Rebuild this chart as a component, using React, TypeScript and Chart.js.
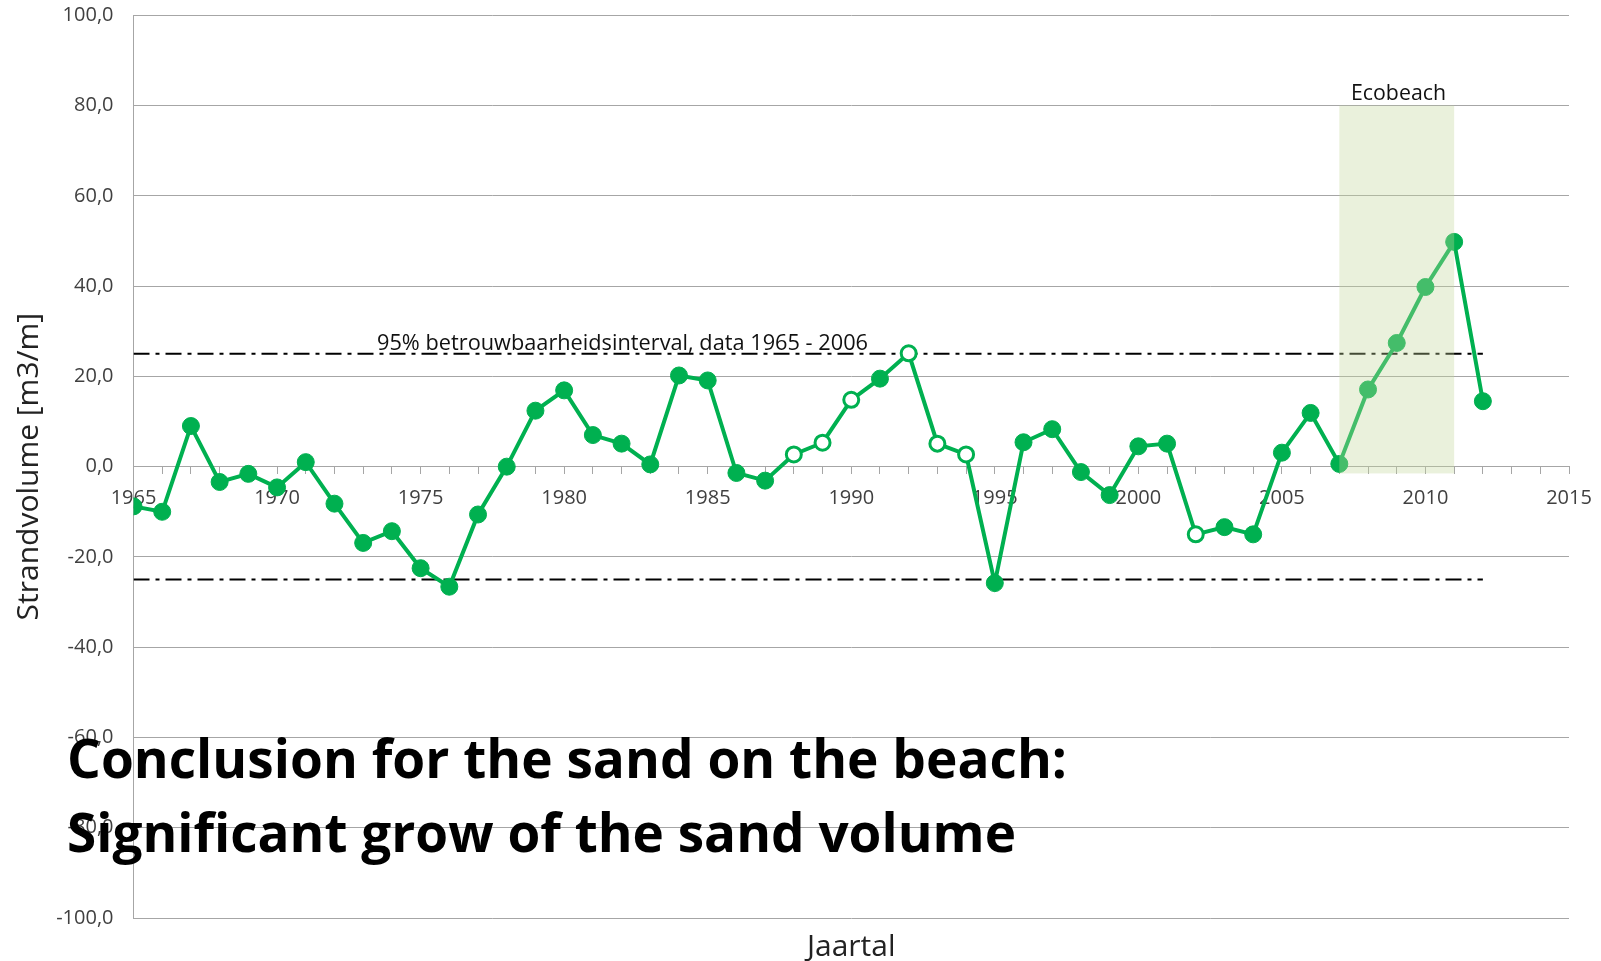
import React, { useEffect, useRef } from 'react';
import { Chart, registerables } from 'chart.js';

Chart.register(...registerables);

// ---- data ----
const years = [
  1965, 1966, 1967, 1968, 1969, 1970, 1971, 1972, 1973, 1974,
  1975, 1976, 1977, 1978, 1979, 1980, 1981, 1982, 1983, 1984,
  1985, 1986, 1987, 1988, 1989, 1990, 1991, 1992, 1993, 1994,
  1995, 1996, 1997, 1998, 1999, 2000, 2001, 2002, 2003, 2004,
  2005, 2006, 2007, 2008, 2009, 2010, 2011, 2012,
];
const strandvolume = [
  -8.8, -10.0, 9.0, -3.4, -1.6, -4.6, 1.0, -8.2, -16.9, -14.3,
  -22.5, -26.6, -10.6, 0.0, 12.4, 16.9, 7.0, 5.1, 0.5, 20.2,
  19.1, -1.4, -3.1, 2.7, 5.3, 14.8, 19.5, 25.1, 5.1, 2.7,
  -25.8, 5.4, 8.3, -1.2, -6.3, 4.5, 5.1, -15.0, -13.4, -15.0,
  3.1, 11.9, 0.6, 17.1, 27.4, 39.8, 49.8, 14.5,
];
const openMarker = [
  false, false, false, false, false, false, false, false, false, false,
  false, false, false, false, false, false, false, false, false, false,
  false, false, false, true, true, true, false, true, true, true,
  false, false, false, false, false, false, false, true, false, false,
  false, false, false, false, false, false, false, false,
];
const ciLevels = [25, -25];
const ciYears = [1965, 2012];
const ciLabel = '95% betrouwbaarheidsinterval, data 1965 - 2006';
const ecobeachYears = [2007, 2011];
const ecobeachRange = [-1.5, 80];
const ecobeachLabel = 'Ecobeach';
const xRange = [1965, 2015];
const yRange = [-100, 100];
const yStep = 20;
const xLabelEvery = 5;
const yTitle = 'Strandvolume [m3/m]';
const xTitle = 'Jaartal';
const conclusionLines = [
  'Conclusion for the sand on the beach:',
  'Significant grow of the sand volume',
];

const GREEN = '#00B050';
const GRID = '#A6A6A6';
const FONT = "'Open Sans', 'Noto Sans', sans-serif";

function fitText(ctx: CanvasRenderingContext2D, text: string, x: number, y: number, width: number) {
  const natural = ctx.measureText(text).width;
  ctx.save();
  ctx.translate(x, y);
  ctx.scale(width / natural, 1);
  ctx.fillText(text, 0, 0);
  ctx.restore();
}

const overlayPlugin = {
  id: 'overlayPlugin',
  afterDatasetsDraw(chart: any) {
    const { ctx } = chart;
    const x = chart.scales.x;
    const y = chart.scales.y;
    ctx.save();
    // Ecobeach band (semi-transparent over data)
    const bx0 = x.getPixelForValue(ecobeachYears[0]);
    const bx1 = x.getPixelForValue(ecobeachYears[1]);
    const by0 = y.getPixelForValue(ecobeachRange[1]);
    const by1 = y.getPixelForValue(ecobeachRange[0]);
    ctx.fillStyle = 'rgba(196,215,155,0.35)';
    ctx.fillRect(bx0, by0, bx1 - bx0, by1 - by0);

    // Ecobeach label
    ctx.fillStyle = '#111';
    ctx.font = `21px ${FONT}`;
    ctx.textAlign = 'left';
    ctx.textBaseline = 'alphabetic';
    fitText(ctx, ecobeachLabel, 1351, by0 - 6, 95);

    // CI label
    ctx.font = `21px ${FONT}`;
    fitText(ctx, ciLabel, 377, y.getPixelForValue(ciLevels[0]) - 4, 491);

    // x title
    ctx.font = `30px ${FONT}`;
    ctx.fillStyle = '#222';
    ctx.textAlign = 'center';
    ctx.textBaseline = 'middle';
    ctx.fillText(xTitle, (chart.chartArea.left + chart.chartArea.right) / 2, 947);

    // Conclusion text
    ctx.fillStyle = '#000';
    ctx.font = `bold 53px ${FONT}`;
    ctx.textAlign = 'left';
    ctx.textBaseline = 'alphabetic';
    fitText(ctx, conclusionLines[0], 67, 778, 1000);
    fitText(ctx, conclusionLines[1], 67, 852, 949);
    ctx.restore();
  },
};

export default function App() {
  const ref = useRef<HTMLCanvasElement>(null);
  useEffect(() => {
    if (!ref.current) return;
    const mainData = years.map((yr, i) => ({ x: yr, y: strandvolume[i] }));
    const ciSets = ciLevels.map((lvl) => ({
      label: 'ci' + lvl,
      data: ciYears.map((yr) => ({ x: yr, y: lvl })),
      borderColor: '#000',
      borderWidth: 2,
      borderDash: [16, 6, 4, 6],
      pointRadius: 0,
      fill: false,
    }));
    const chart = new Chart(ref.current, {
      type: 'line',
      data: {
        datasets: [
          {
            label: 'Strandvolume',
            data: mainData,
            borderColor: GREEN,
            borderWidth: 4,
            pointRadius: openMarker.map((o) => (o ? 7.5 : 8.5)),
            pointBorderWidth: openMarker.map((o) => (o ? 3 : 1)),
            pointBackgroundColor: openMarker.map((o) => (o ? '#FFFFFF' : GREEN)),
            pointBorderColor: GREEN,
            tension: 0,
            fill: false,
          },
          ...ciSets,
        ] as any,
      },
      options: {
        animation: false,
        responsive: false,
        maintainAspectRatio: false,
        layout: { padding: { left: 0, top: 15.3, right: 32, bottom: 43 } },
        plugins: {
          legend: { display: false },
          tooltip: { enabled: false },
        },
        scales: {
          x: {
            type: 'linear',
            position: { y: 0 } as any,
            min: xRange[0],
            max: xRange[1],
            afterFit: (scale: any) => {
              scale.paddingLeft = 0;
              scale.paddingRight = 0;
            },
            grid: {
              drawOnChartArea: false,
              drawTicks: true,
              tickLength: 7,
              color: GRID,
            },
            border: { display: true, color: GRID, width: 1 },
            ticks: {
              stepSize: 1,
              autoSkip: false,
              maxRotation: 0,
              padding: 13,
              color: '#404040',
              font: { family: FONT, size: 20 },
              callback: (v: any) => (Number(v) % xLabelEvery === 0 ? String(v) : ''),
            },
          },
          y: {
            type: 'linear',
            position: 'left',
            min: yRange[0],
            max: yRange[1],
            afterFit: (scale: any) => {
              scale.width = 133.5;
              scale.paddingTop = 0;
              scale.paddingBottom = 0;
            },
            grid: { color: GRID, drawTicks: false, lineWidth: 1 },
            border: { display: true, color: GRID, width: 1 },
            ticks: {
              stepSize: yStep,
              padding: 20,
              color: '#404040',
              font: { family: FONT, size: 20 },
              callback: (v: any) => Number(v).toFixed(1).replace('.', ','),
            },
            title: {
              display: true,
              text: yTitle,
              color: '#222',
              font: { family: FONT, size: 30 },
              padding: { top: 11, bottom: 0 },
            },
          },
        },
      },
      plugins: [overlayPlugin],
    });
    return () => chart.destroy();
  }, []);
  return (
    <div style={{ position: 'fixed', left: 0, top: 0, width: 1601, height: 961, background: '#fff' }}>
      <canvas ref={ref} width={1601} height={961} style={{ width: 1601, height: 961, display: 'block' }} />
    </div>
  );
}
